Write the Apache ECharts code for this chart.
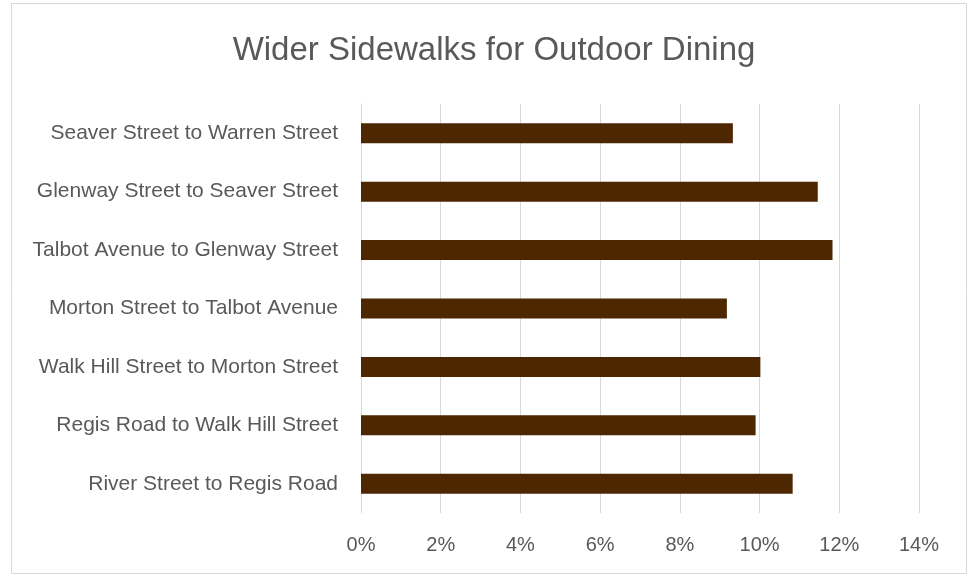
<!DOCTYPE html>
<html>
<head>
<meta charset="utf-8">
<script src="https://cdn.jsdelivr.net/npm/echarts@6/dist/echarts.min.js"></script>
<style>
  html, body { margin: 0; padding: 0; background: #fff; }
  #main { width: 972px; height: 575px; }
</style>
</head>
<body>
<div id="main"></div>
<script>
// segments, top to bottom in the picture
var segments = [
  "Seaver Street to Warren Street",
  "Glenway Street to Seaver Street",
  "Talbot Avenue to Glenway Street",
  "Morton Street to Talbot Avenue",
  "Walk Hill Street to Morton Street",
  "Regis Road to Walk Hill Street",
  "River Street to Regis Road"
];
// share of respondents, %
var shares = [9.33, 11.46, 11.83, 9.18, 10.02, 9.90, 10.83];

var textColor = "#595959";
var chart = echarts.init(document.getElementById("main"));

chart.setOption({
  animation: false,
  backgroundColor: "#fff",
  title: {
    text: "Wider Sidewalks for Outdoor Dining",
    left: 489,
    textAlign: "center",
    top: 29,
    textStyle: {
      fontFamily: "Liberation Sans",
      fontSize: 33,
      fontWeight: "normal",
      color: textColor
    }
  },
  graphic: [{
    type: "rect",
    shape: { x: 11.5, y: 3.5, width: 955, height: 570 },
    style: { fill: null, stroke: "#d9d9d9", lineWidth: 1 },
    silent: true
  }],
  grid: { left: 361, right: 53, top: 104, bottom: 62 },
  xAxis: {
    type: "value",
    min: 0,
    max: 14,
    interval: 2,
    axisLine: { show: false },
    axisTick: { show: false },
    splitLine: { lineStyle: { color: "#d9d9d9", width: 1 } },
    axisLabel: {
      formatter: "{value}%",
      margin: 22,
      fontFamily: "Liberation Sans",
      fontSize: 20,
      color: textColor
    }
  },
  yAxis: {
    type: "category",
    inverse: true,
    data: segments,
    axisLine: { show: true, lineStyle: { color: "#d9d9d9" } },
    axisTick: { show: false },
    axisLabel: {
      margin: 23,
      fontFamily: "Liberation Sans",
      fontSize: 21,
      color: textColor
    }
  },
  series: [{
    type: "bar",
    data: shares,
    barWidth: 20,
    itemStyle: { color: "#4c2700" }
  }]
});
</script>
</body>
</html>
